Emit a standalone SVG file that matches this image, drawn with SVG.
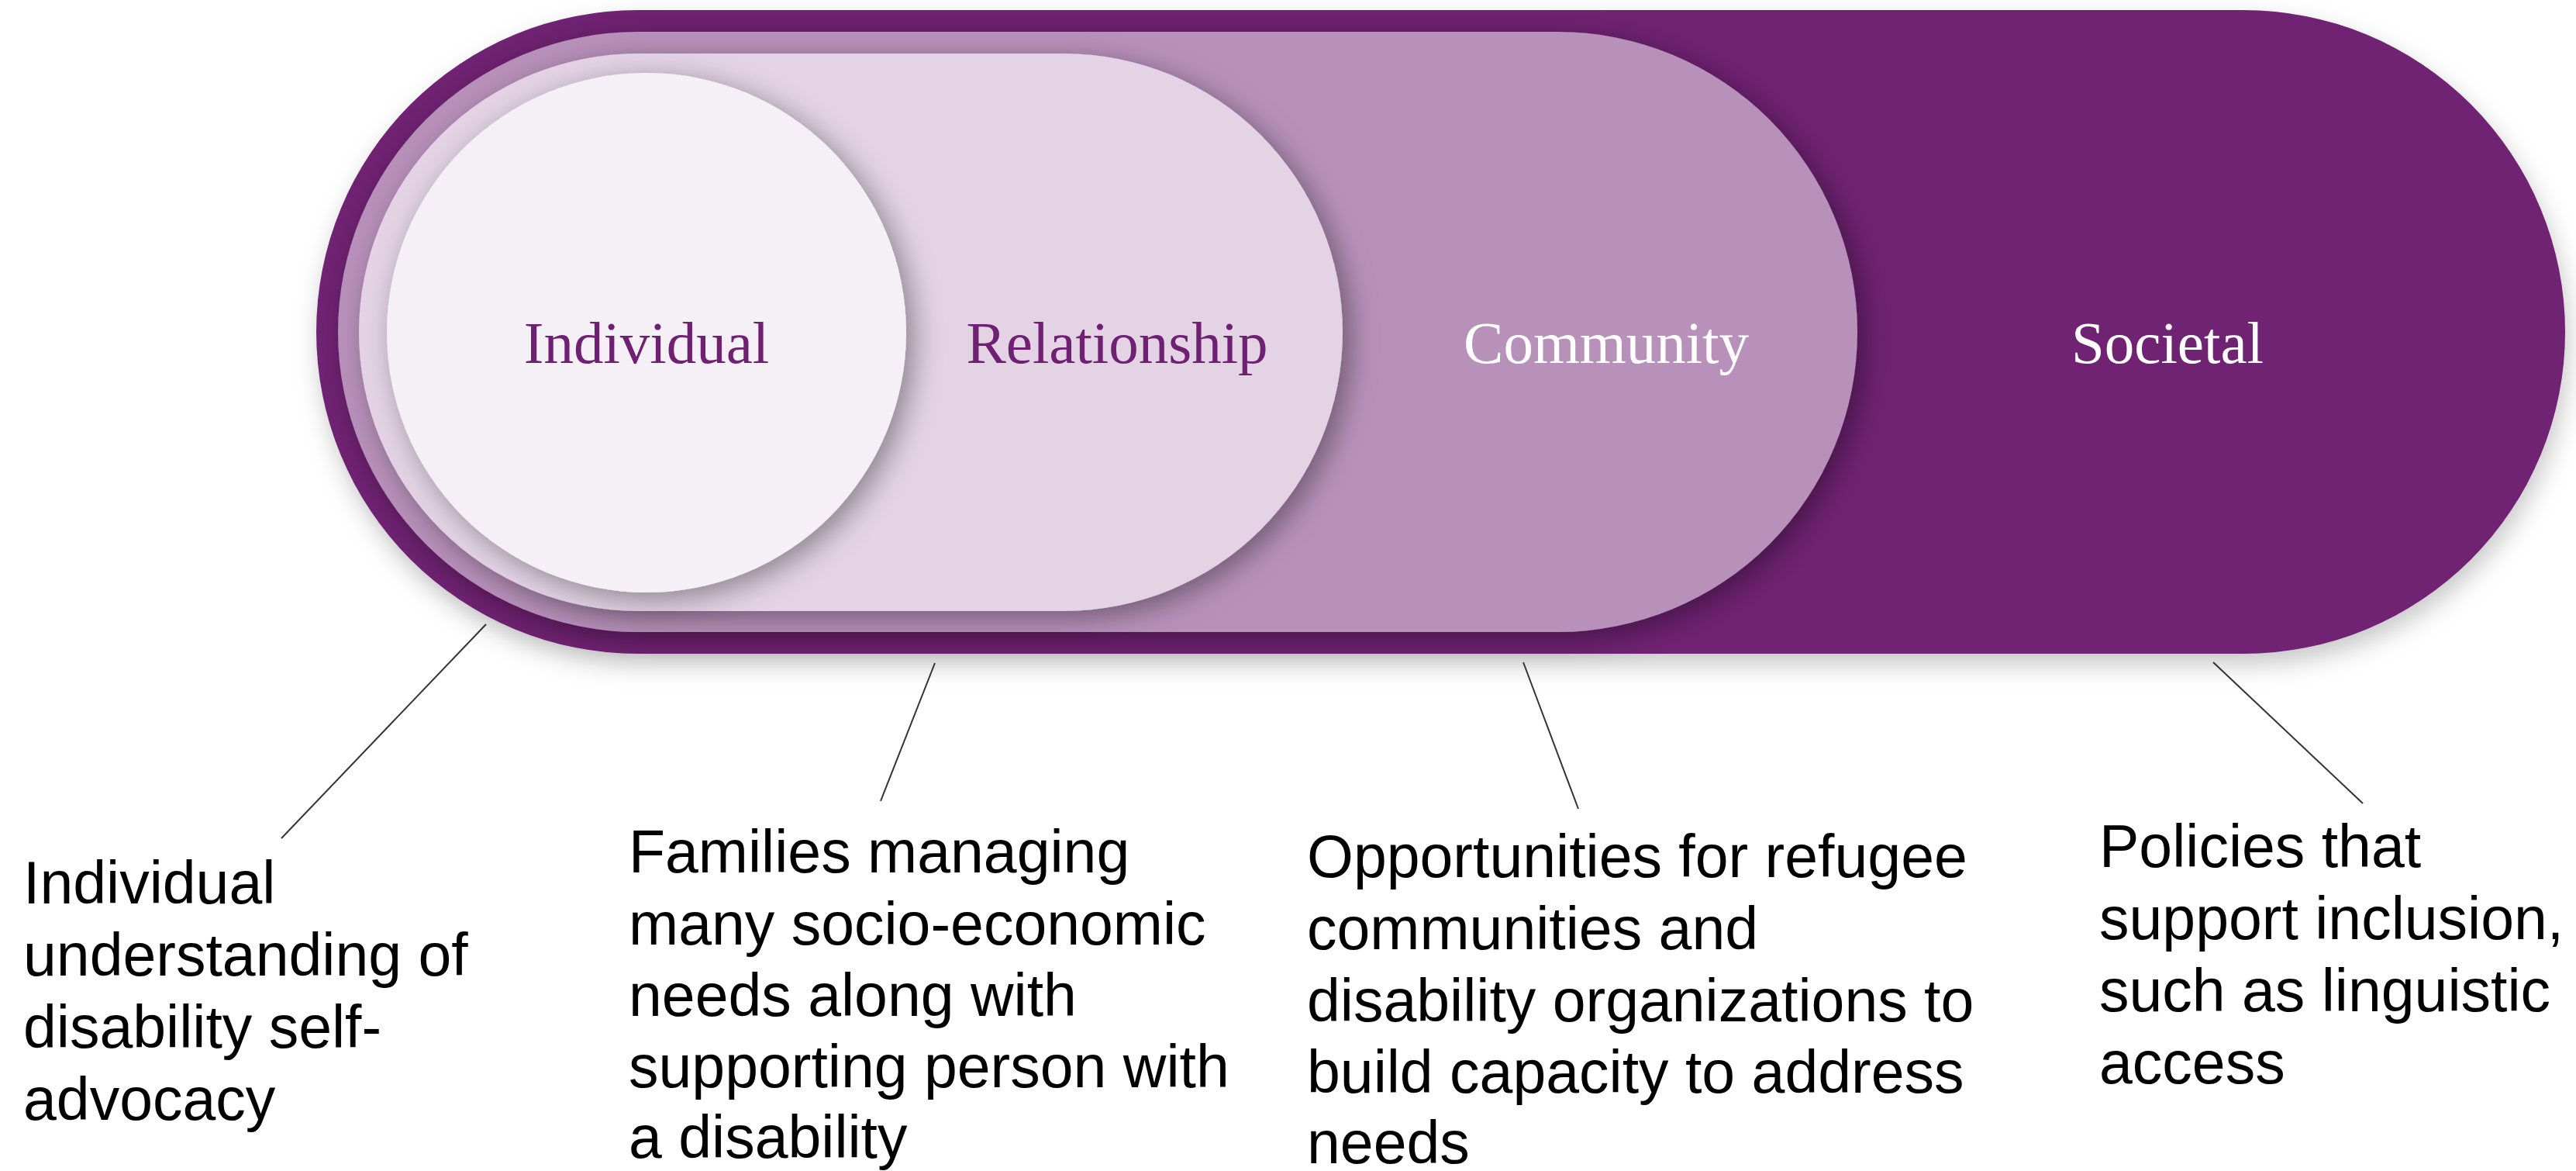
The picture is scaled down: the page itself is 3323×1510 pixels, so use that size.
<svg xmlns="http://www.w3.org/2000/svg" width="3323" height="1510" viewBox="0 0 3323 1510">
<defs>
<style>
.lvl{font-family:"Liberation Serif","Times New Roman",serif;font-size:77px;text-anchor:middle}
.dark{fill:#6F2073}
.light{fill:#FFFFFF}
.desc{font-family:"Liberation Sans",Arial,sans-serif;font-size:77px;fill:#000000}
.conn{stroke:#333333;stroke-width:2;fill:none}
</style>
<filter id="sh" x="-10%" y="-15%" width="125%" height="140%">
<feDropShadow dx="10" dy="9" stdDeviation="18" flood-color="#000000" flood-opacity="0.38"/>
</filter>
<filter id="shOuter" x="-5%" y="-10%" width="110%" height="130%">
<feDropShadow dx="4" dy="14" stdDeviation="16" flood-color="#000000" flood-opacity="0.22"/>
</filter>
</defs>
<rect x="0" y="0" width="3323" height="1510" fill="#FFFFFF"/>
<g id="societal">
<rect x="408" y="13" width="2901" height="830" rx="415" ry="415" fill="#6F2073" filter="url(#shOuter)"/>
<text class="lvl light" x="2796" y="468">Societal</text>
</g>
<g id="community">
<rect x="436" y="41" width="1960" height="774" rx="387" ry="387" fill="#B891BB" filter="url(#sh)"/>
<text class="lvl light" x="2072" y="468">Community</text>
</g>
<g id="relationship">
<rect x="463" y="69" width="1269" height="719" rx="360" ry="360" fill="#E3D3E5" filter="url(#sh)"/>
<text class="lvl dark" x="1441" y="468">Relationship</text>
</g>
<g id="individual">
<circle cx="834" cy="429" r="335" fill="#F5F0F6" filter="url(#sh)"/>
<text class="lvl dark" x="834" y="468">Individual</text>
</g>
<g id="connectors">
<line class="conn" x1="627" y1="805" x2="363" y2="1081"/>
<line class="conn" x1="1206" y1="855" x2="1136" y2="1033"/>
<line class="conn" x1="1965" y1="854" x2="2036" y2="1043"/>
<line class="conn" x1="2855" y1="854" x2="3048" y2="1036"/>
</g>
<g id="desc-individual">
<text class="desc" x="30" y="1165">Individual</text>
<text class="desc" x="30" y="1258">understanding of</text>
<text class="desc" x="30" y="1351">disability self-</text>
<text class="desc" x="30" y="1444">advocacy</text>
</g>
<g id="desc-relationship">
<text class="desc" x="811" y="1125">Families managing</text>
<text class="desc" x="811" y="1218">many socio-economic</text>
<text class="desc" x="811" y="1310">needs along with</text>
<text class="desc" x="811" y="1402">supporting person with</text>
<text class="desc" x="811" y="1493">a disability</text>
</g>
<g id="desc-community">
<text class="desc" x="1686" y="1131">Opportunities for refugee</text>
<text class="desc" x="1686" y="1224">communities and</text>
<text class="desc" x="1686" y="1317">disability organizations to</text>
<text class="desc" x="1686" y="1409">build capacity to address</text>
<text class="desc" x="1686" y="1500">needs</text>
</g>
<g id="desc-societal">
<text class="desc" x="2708" y="1118">Policies that</text>
<text class="desc" x="2708" y="1211">support inclusion,</text>
<text class="desc" x="2708" y="1304">such as linguistic</text>
<text class="desc" x="2708" y="1397">access</text>
</g>
</svg>
